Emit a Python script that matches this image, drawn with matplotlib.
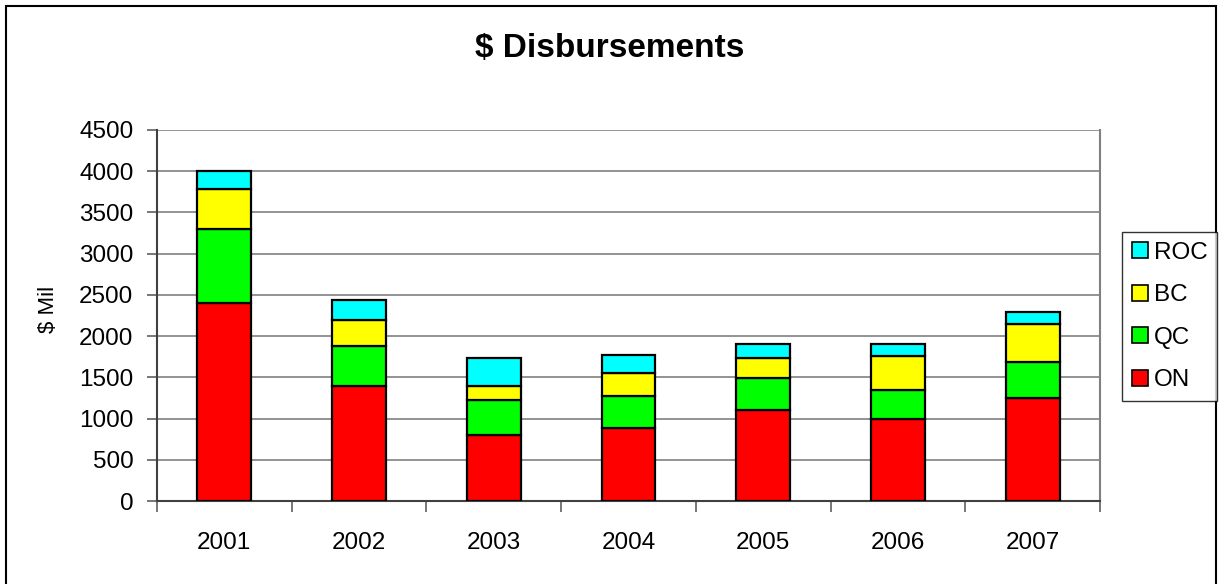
import numpy as np
import matplotlib
matplotlib.use("Agg")
import matplotlib.pyplot as plt
from matplotlib.patches import Rectangle, Patch
from matplotlib.transforms import Bbox

plt.rcParams['font.family'] = ['Liberation Sans', 'DejaVu Sans']

# Data ($ millions)
years = ['2001', '2002', '2003', '2004', '2005', '2006', '2007']
on_vals = [2400, 1400, 800, 890, 1105, 990, 1250]
qc_vals = [900, 480, 430, 385, 390, 360, 440]
bc_vals = [480, 320, 170, 275, 240, 410, 460]
roc_vals = [220, 240, 340, 215, 170, 145, 145]

series = [('ON', on_vals, '#ff0000'),
          ('QC', qc_vals, '#00ff00'),
          ('BC', bc_vals, '#ffff00'),
          ('ROC', roc_vals, '#00ffff')]

W, H = 1219, 584
fig = plt.figure(figsize=(W / 100, H / 100), dpi=100)
ax = fig.add_axes([157 / W, 1 - 501 / H, (1100 - 157) / W, (501 - 130) / H])

x = np.arange(len(years))
bottom = np.zeros(len(years))
for name, vals, col in series:
    ax.bar(x, vals, 0.4, bottom=bottom, color=col, edgecolor='black',
           linewidth=1.6, label=name, zorder=3)
    bottom += np.array(vals)

ax.set_xlim(-0.5, len(years) - 0.5)
ax.set_ylim(0, 4500)
ax.set_yticks(np.arange(0, 4501, 500))
ax.yaxis.grid(True, color='#808080', linewidth=1.2, zorder=0)

# category boundary ticks, labels centred under bars
ax.set_xticks(np.arange(-0.5, len(years), 1.0))
ax.set_xticklabels([])
ax.set_xticks(x, minor=True)
ax.set_xticklabels(years, minor=True)
ax.tick_params(axis='x', which='major', direction='out', length=8,
               width=1.2, color='#606060')
ax.tick_params(axis='x', which='minor', length=0, pad=22, labelsize=17.5)
ax.tick_params(axis='y', direction='out', length=7, width=1.2,
               color='#606060', pad=10, labelsize=17.5)

ax.spines['top'].set_visible(False)
ax.spines['right'].set_color('#808080')
ax.spines['right'].set_linewidth(1.5)
ax.spines['left'].set_color('#404040')
ax.spines['left'].set_linewidth(1.5)
ax.spines['bottom'].set_color('#404040')
ax.spines['bottom'].set_linewidth(1.5)

fig.text(610 / W, 1 - 49 / H, '$ Disbursements', ha='center', va='center',
         fontsize=24, fontweight='bold')

# y label, cut off at the top like the original
yl = fig.text(49 / W, 1 - 304 / H, '$ Mils', rotation=90, ha='center',
              va='center', fontsize=16)
yl.set_clip_box(Bbox.from_extents(0, 0, 120, H - 287))
yl.set_clip_on(True)

handles = [Patch(facecolor=c, edgecolor='black', linewidth=1.2, label=n)
           for n, v, c in reversed(series)]
leg = fig.legend(handles=handles, loc='center left',
                 bbox_to_anchor=(1122 / W, 1 - 316.5 / H), fontsize=17.5,
                 frameon=True, fancybox=False, handlelength=0.65,
                 handleheight=0.65, handletextpad=0.25, labelspacing=0.85,
                 borderpad=0.4, borderaxespad=0)
leg.get_frame().set_edgecolor('black')
leg.get_frame().set_linewidth(1.0)

# outer chart frame
fig.patches.append(Rectangle((6 / W, -0.02), (1216 - 6) / W, 1 - 6 / H + 0.02,
                             transform=fig.transFigure, fill=False,
                             edgecolor='black', linewidth=1.5))

fig.savefig('out.png', dpi=100)
